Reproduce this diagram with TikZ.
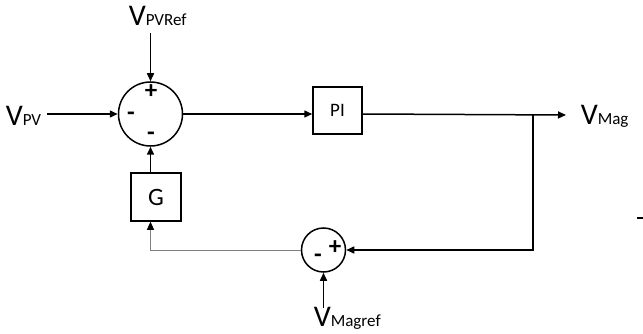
\documentclass[tikz,border=0pt]{standalone}
\usepackage{fontspec}
\setmainfont{Carlito}
\usetikzlibrary{arrows.meta,calc}
\newcommand{\bigV}{\fontsize{30}{30}\selectfont V}
\newcommand{\subtxt}[1]{\fontsize{17}{17}\selectfont #1}
\begin{document}
\begin{tikzpicture}[x=1pt,y=-1pt,
  line width=1.5pt,
  arr/.style={-{Triangle[length=8pt,width=7pt]}},
  sumc/.style={circle,draw,inner sep=0pt},
  blk/.style={draw,inner sep=0pt},
  lbl/.style={inner sep=0pt,anchor=base west},
  sign/.style={inner sep=0pt,font=\fontsize{25}{25}\selectfont\bfseries}]
\useasboundingbox (0,0) rectangle (643,334);
% summing junction 1
\node[sumc,minimum size=64pt] (s1) at (150.5,114) {};
\node[sign] (p1) at (151,92) {+};
\node[sign] (m1) at (131,116) {-};
\node[sign] (m2) at (151,136) {-};
% inputs
\node[lbl] (vpv) at (5,126) {\bigV\subtxt{PV}};
\node[lbl] (vref) at (128,26) {\bigV\subtxt{PVRef}};
\draw[arr] ([xshift=5pt]vpv.east |- s1.west) -- (s1.west);
\draw[arr] ([yshift=-6pt]s1.north |- vref.south) -- (s1.north);
% PI block
\node[blk,minimum width=49pt,minimum height=47pt,font=\fontsize{19}{19}\selectfont] (pi) at (337.5,110.5) {PI};
\draw[arr] (s1.east) -- (s1.east -| pi.west);
% output
\node[lbl] (vmag) at (580,125) {\bigV\subtxt{Mag}};
\coordinate (out) at (566,115);
\coordinate (br) at (533,115);
\draw[arr] (pi.east |- s1.east) -- (out);
% summing junction 2
\node[sumc,minimum size=44pt] (s2) at (323.5,250) {};
\node[sign] (p2) at (335,248) {+};
\node[sign] (m3) at (318,258) {-};
\draw[arr] (br) |- (s2.east);
\node[lbl] (vmagref) at (313,326) {\bigV\subtxt{Magref}};
\draw[arr] ([yshift=-2pt]s2.south |- vmagref.north) -- (s2.south);
% G block
\node[blk,minimum width=50pt,minimum height=48pt,font=\fontsize{25}{25}\selectfont] (g) at (156,197) {G};
\draw[arr] (g.north -| s1.south) -- (s1.south);
\draw[gray,line width=1pt,-{Triangle[length=8pt,width=7pt,black]}] (s2.west) -| (g.south -| s1.south);
% cropped fragment at the right edge
\coordinate (f1) at (637,218);
\coordinate (f2) at (643,218);
\draw (f1) -- (f2);
\end{tikzpicture}
\end{document}
